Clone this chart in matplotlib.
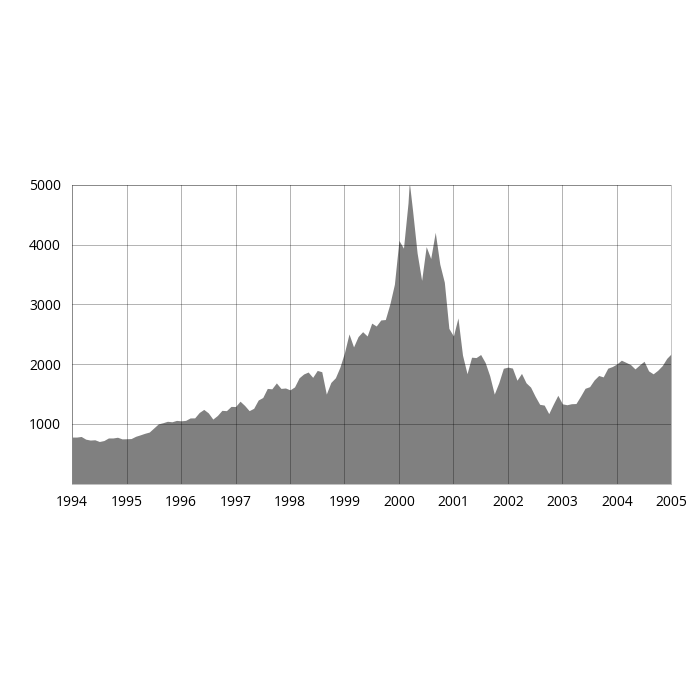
import numpy as np
import matplotlib
matplotlib.use("Agg")
import matplotlib.pyplot as plt

plt.rcParams['font.family'] = ['Open Sans', 'DejaVu Sans']

# NASDAQ-style monthly closes
years = list(range(1994, 2005))
monthly = [
    [780, 790, 745, 730, 735, 706, 722, 765, 765, 777, 750, 752],
    [755, 793, 817, 843, 864, 933, 1001, 1020, 1044, 1036, 1059, 1052],
    [1059, 1100, 1101, 1191, 1243, 1185, 1081, 1141, 1227, 1222, 1293, 1291],
    [1380, 1309, 1222, 1261, 1400, 1442, 1594, 1587, 1686, 1594, 1601, 1570],
    [1619, 1771, 1835, 1868, 1779, 1895, 1873, 1499, 1694, 1772, 1950, 2193],
    [2505, 2288, 2461, 2543, 2471, 2686, 2638, 2739, 2746, 3006, 3336, 4069],
    [3940, 4697, 4573, 3861, 3401, 3966, 3767, 4206, 3673, 3370, 2598, 2471],
    [2773, 2152, 1840, 2116, 2110, 2161, 2027, 1805, 1499, 1690, 1931, 1950],
    [1934, 1731, 1845, 1688, 1616, 1463, 1328, 1315, 1172, 1330, 1479, 1336],
    [1321, 1338, 1341, 1464, 1596, 1623, 1735, 1810, 1787, 1932, 1960, 2003],
    [2066, 2030, 1994, 1920, 1987, 2048, 1887, 1838, 1897, 1975, 2097, 2175],
]
peak_date = 2000.19
peak_value = 5048

x = []
y = []
for yr, vals in zip(years, monthly):
    for m, v in enumerate(vals):
        x.append(yr + (m + 1) / 12.0)
        y.append(v)
x = [1994.0] + x
y = [780] + y
x.append(peak_date)
y.append(peak_value)
order = np.argsort(x)
x = np.array(x)[order]
y = np.array(y)[order]

fig = plt.figure(figsize=(7, 7), dpi=100)
ax = fig.add_axes([0.103, 0.309, 0.856, 0.427])
ax.fill_between(x, 0, y, color='#808080', linewidth=0, zorder=1)
ax.set_xlim(1994, 2005)
ax.set_ylim(0, 5000)
ax.set_xticks(range(1994, 2006))
ax.set_yticks([1000, 2000, 3000, 4000, 5000])
ax.grid(True, color='black', alpha=0.35, linewidth=0.6, zorder=2)
ax.set_axisbelow(False)
for s in ax.spines.values():
    s.set_color('#bbbbbb')
    s.set_linewidth(0.6)
ax.tick_params(length=0, labelsize=10, pad=8)
fig.savefig("out.png")
